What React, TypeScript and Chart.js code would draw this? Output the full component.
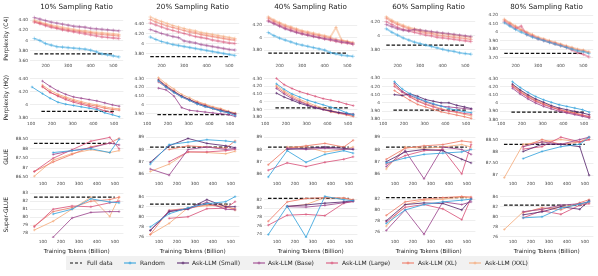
import React, { useEffect, useRef } from "react";
import { Chart, registerables } from "chart.js";
Chart.register(...registerables);

const FONT = "'DejaVu Sans', 'Liberation Sans', sans-serif";

// ---------- text ----------
const COL_TITLES = ["10% Sampling Ratio", "20% Sampling Ratio", "40% Sampling Ratio", "60% Sampling Ratio", "80% Sampling Ratio"];
const ROW_TITLES = ["Perplexity (C4)", "Perplexity (HQ)", "GLUE", "Super-GLUE"];
const X_TITLE = "Training Tokens (Billion)";
const LEGEND_FULL = "Full data";
const SERIES_KEYS = ["random", "small", "base", "large", "xl", "xxl"];
const SERIES_NAMES = ["Random", "Ask-LLM (Small)", "Ask-LLM (Base)", "Ask-LLM (Large)", "Ask-LLM (XL)", "Ask-LLM (XXL)"];

// ---------- x values & tick labels ----------
const C4_X = [150, 175, 200, 225, 250, 275, 300, 325, 350, 375, 400, 425, 450, 475, 500, 525];
const HQ_X = [105, 155, 192, 230, 267, 305, 342, 380, 417, 455, 492, 525];
const DS_X = [52, 157, 262, 367, 472, 524];
const X_TICKS_C4 = [200, 300, 400, 500];
const X_TICKS = [100, 200, 300, 400, 500];
const FULL_SPAN_PPL = [150, 500];
const FULL_SPAN_DS = [50, 500];

// ---------- Full data reference values ----------
const FULL_C4 = [3.74, 3.74, 3.75, 3.87, 3.75];
const FULL_HQ = [3.9, 3.89, 3.92, 3.91, 3.89];
const FULL_GLUE = [88.28, 88.2, 88.2, 88.2, 88.3];
const FULL_SG = [82.5, 82.5, 82.3, 82.3, 82.3];

// ---------- y tick labels ----------
const Y_TICKS_C4 = [[3.6, 3.8, 4, 4.2, 4.4], [3.8, 4, 4.2, 4.4], [3.8, 4, 4.2], [3.8, 4, 4.2], [3.7, 3.8, 3.9, 4, 4.1, 4.2]];
const Y_TICKS_HQ = [[3.8, 4, 4.2, 4.4], [3.9, 4, 4.1, 4.2, 4.3], [3.8, 3.9, 4, 4.1, 4.2, 4.3], [3.8, 3.9, 4, 4.1, 4.2, 4.3], [3.8, 3.9, 4, 4.1, 4.2, 4.3]];
const Y_TICKS_GLUE = [[86.5, 87, 87.5, 88, 88.5], [86, 87, 88, 89], [86, 87, 88, 89], [86, 87, 88, 89], [87, 87.5, 88, 88.5]];
const Y_TICKS_SG = [[78, 79, 80, 81, 82, 83], [76, 78, 80, 82, 84], [74, 76, 78, 80, 82], [76, 78, 80, 82], [76, 78, 80, 82, 84]];

// ---------- Perplexity (C4) ----------
const C4_10_RANDOM = [4.04, 4.0, 3.94, 3.91, 3.88, 3.87, 3.86, 3.85, 3.84, 3.83, 3.81, 3.78, 3.74, 3.72, 3.7, 3.68];
const C4_10_BASE = [4.45, 4.42, 4.39, 4.36, 4.34, 4.32, 4.3, 4.28, 4.27, 4.26, 4.24, 4.23, 4.22, 4.21, 4.2, 4.19];
const C4_10_LARGE = [4.36, 4.33, 4.29, 4.26, 4.24, 4.21, 4.19, 4.17, 4.15, 4.13, 4.11, 4.09, 4.07, 4.06, 4.05, 4.04];
const C4_10_XL = [4.37, 4.34, 4.31, 4.28, 4.25, 4.23, 4.21, 4.19, 4.18, 4.16, 4.15, 4.13, 4.12, 4.11, 4.1, 4.09];
const C4_10_XXL = [4.4, 4.36, 4.33, 4.3, 4.28, 4.26, 4.24, 4.22, 4.2, 4.19, 4.17, 4.16, 4.15, 4.14, 4.13, 4.12];

const C4_20_RANDOM = [4.13, 4.08, 4.04, 4.01, 3.98, 3.96, 3.94, 3.92, 3.9, 3.88, 3.86, 3.84, 3.82, 3.8, 3.78, 3.76];
const C4_20_BASE = [4.28, 4.24, 4.2, 4.17, 4.14, 4.12, 4.05, 4.03, 4.01, 3.98, 3.96, 3.94, 3.92, 3.9, 3.88, 3.87];
const C4_20_LARGE = [4.41, 4.37, 4.33, 4.29, 4.26, 4.23, 4.2, 4.17, 4.14, 4.12, 4.1, 4.07, 4.05, 4.03, 4.01, 4.0];
const C4_20_XL = [4.48, 4.43, 4.39, 4.35, 4.32, 4.29, 4.26, 4.23, 4.21, 4.18, 4.16, 4.14, 4.12, 4.1, 4.08, 4.07];
const C4_20_XXL = [4.53, 4.48, 4.44, 4.4, 4.36, 4.33, 4.3, 4.27, 4.25, 4.22, 4.2, 4.18, 4.16, 4.14, 4.12, 4.1];

const C4_40_RANDOM = [4.08, 4.03, 3.99, 3.96, 3.93, 3.9, 3.88, 3.86, 3.84, 3.82, 3.8, 3.76, 3.74, 3.72, 3.71, 3.7];
const C4_40_BASE = [4.26, 4.22, 4.18, 4.14, 4.11, 4.08, 4.06, 4.04, 4.02, 4.0, 3.98, 3.97, 3.95, 3.93, 3.92, 3.9];
const C4_40_LARGE = [4.27, 4.23, 4.19, 4.15, 4.12, 4.09, 4.06, 4.04, 4.02, 4.0, 3.98, 3.96, 3.94, 3.92, 3.91, 3.89];
const C4_40_XL = [4.31, 4.26, 4.22, 4.18, 4.15, 4.12, 4.09, 4.07, 4.05, 4.03, 4.01, 3.99, 3.97, 3.95, 3.93, 3.91];
const C4_40_XXL = [4.33, 4.28, 4.24, 4.2, 4.17, 4.14, 4.11, 4.09, 4.07, 4.05, 4.03, 4.01, 4.16, 3.96, 3.94, 3.92];

const C4_60_RANDOM = [4.1, 4.05, 4.01, 3.97, 3.94, 3.91, 3.89, 3.87, 3.85, 3.83, 3.81, 3.79, 3.78, 3.76, 3.75, 3.74];
const C4_60_BASE = [4.16, 4.13, 4.1, 4.08, 4.07, 4.09, 4.08, 4.07, 4.06, 4.05, 4.04, 4.03, 4.02, 4.01, 4.0, 3.99];
const C4_60_LARGE = [4.2, 4.16, 4.12, 4.09, 4.07, 4.05, 4.03, 4.01, 4.0, 3.98, 3.97, 3.96, 3.95, 3.94, 3.93, 3.92];
const C4_60_XL = [4.25, 4.2, 4.16, 4.13, 4.1, 4.08, 4.06, 4.04, 4.03, 4.01, 4.0, 3.99, 3.98, 3.97, 3.96, 3.95];
const C4_60_XXL = [4.27, 4.22, 4.18, 4.15, 4.12, 4.1, 4.08, 4.06, 4.05, 4.04, 4.03, 4.02, 4.01, 4.0, 3.99, 3.98];

const C4_80_RANDOM = [4.11, 4.07, 4.03, 4.0, 3.97, 3.94, 3.92, 3.9, 3.88, 3.86, 3.84, 3.82, 3.8, 3.78, 3.77, 3.75];
const C4_80_LARGE = [4.12, 4.08, 4.04, 4.07, 3.97, 3.95, 3.92, 3.9, 3.88, 3.86, 3.84, 3.82, 3.79, 3.76, 3.74, 3.71];
const C4_80_XL = [4.14, 4.1, 4.06, 4.02, 3.99, 3.96, 3.93, 3.91, 3.89, 3.87, 3.85, 3.83, 3.81, 3.79, 3.78, 3.76];
const C4_80_XXL = [4.15, 4.11, 4.07, 4.03, 4.0, 3.97, 3.94, 3.92, 3.9, 3.88, 3.86, 3.84, 3.82, 3.8, 3.79, 3.77];

// ---------- Perplexity (HQ) ----------
const HQ_10_RANDOM = [4.27, 4.17, 4.1, 4.04, 4.01, 3.99, 3.97, 3.95, 3.93, 3.88, 3.85, 3.82];
const HQ_10_BASE = [null, 4.36, 4.28, 4.21, 4.16, 4.12, 4.1, 4.08, 4.06, 4.03, 4.0, 3.98];
const HQ_10_LARGE = [null, 4.28, 4.19, 4.13, 4.08, 4.04, 4.01, 3.98, 3.95, 3.91, 3.88, null];
const HQ_10_XL = [null, 4.27, 4.19, 4.14, 4.1, 4.06, 4.03, 4.0, 3.98, 3.95, 3.93, 3.92];
const HQ_10_XXL = [null, 4.3, 4.22, 4.16, 4.12, 4.08, 4.05, 4.02, 4.0, 3.97, 3.95, 3.94];

const HQ_20_RANDOM = [null, 4.27, 4.2, 4.14, 4.09, 4.05, 4.01, 3.98, 3.96, 3.93, 3.91, 3.88];
const HQ_20_SMALL = [null, 4.28, 4.21, 4.15, 4.1, 4.06, 4.02, 3.99, 3.96, 3.94, 3.92, 3.9];
const HQ_20_BASE = [null, 4.19, 4.17, 4.1, 3.97, 3.94, 3.93, 3.92, 3.91, 3.9, 3.89, 3.87];
const HQ_20_LARGE = [null, 4.26, 4.2, 4.14, 4.09, 4.05, 4.01, 3.98, 3.96, 3.93, 3.91, 3.89];
const HQ_20_XL = [null, 4.29, 4.22, 4.16, 4.1, 4.06, 4.03, 4.0, 3.97, 3.95, 3.92, 3.9];
const HQ_20_XXL = [null, 4.31, 4.24, 4.18, 4.12, 4.08, 4.04, 4.01, 3.98, 3.96, 3.93, 3.91];

const HQ_40_RANDOM = [null, 4.23, 4.16, 4.1, 4.06, 4.02, 3.99, 3.96, 3.93, 3.9, 3.86, 3.83];
const HQ_40_SMALL = [null, 4.11, 4.06, 4.02, 3.98, 3.95, 3.92, 3.9, 3.88, 3.86, 3.85, 3.84];
const HQ_40_BASE = [null, 4.17, 4.1, 4.04, 4.0, 3.96, 3.93, 3.9, 3.88, 3.86, 3.84, 3.83];
const HQ_40_LARGE = [null, 4.3, 4.22, 4.17, 4.13, 4.1, 4.07, 4.04, 4.02, 4.0, 3.97, 3.95];
const HQ_40_XL = [null, 4.19, 4.12, 4.06, 4.01, 3.97, 3.93, 3.9, 3.87, 3.85, 3.83, 3.81];
const HQ_40_XXL = [null, 4.21, 4.14, 4.08, 4.03, 3.99, 3.95, 3.92, 3.89, 3.86, 3.84, 3.82];

const HQ_60_RANDOM = [null, 4.26, 4.17, 4.11, 4.06, 4.02, 3.99, 3.96, 3.93, 3.91, 3.89, 3.88];
const HQ_60_SMALL = [null, 4.1, 4.09, 4.11, 4.08, 4.04, 4.02, 4.0, 4.0, 3.97, 3.95, 3.93];
const HQ_60_BASE = [null, 4.24, 4.14, 4.09, 4.05, 4.01, 3.98, 3.96, 3.95, 3.94, 3.93, 3.92];
const HQ_60_LARGE = [null, 4.2, 4.13, 4.07, 4.02, 3.98, 3.95, 3.92, 3.9, 3.89, 3.87, 3.86];
const HQ_60_XL = [null, 4.15, 4.09, 4.03, 3.98, 3.95, 3.92, 3.89, 3.87, 3.85, 3.83, 3.81];
const HQ_60_XXL = [null, 4.22, 4.14, 4.08, 4.03, 3.99, 3.96, 3.93, 3.9, 3.88, 3.86, 3.84];

const HQ_80_RANDOM = [null, 4.26, 4.19, 4.13, 4.08, 4.04, 4.01, 3.98, 3.96, 3.94, 3.92, 3.89];
const HQ_80_SMALL = [null, 4.23, 4.16, 4.1, 4.05, 4.01, 3.97, 3.94, 3.92, 3.9, 3.88, 3.86];
const HQ_80_BASE = [null, 4.18, 4.11, 4.05, 4.0, 3.96, 3.93, 3.9, 3.88, 3.86, 3.84, 3.82];
const HQ_80_LARGE = [null, 4.2, 4.13, 4.07, 4.02, 3.98, 3.95, 3.92, 3.89, 3.87, 3.85, 3.84];
const HQ_80_XL = [null, 4.21, 4.14, 4.08, 4.03, 3.99, 3.95, 3.92, 3.9, 3.88, 3.86, 3.83];
const HQ_80_XXL = [null, 4.22, 4.15, 4.09, 4.04, 4.0, 3.96, 3.93, 3.9, 3.88, 3.85, 3.83];

// ---------- GLUE ----------
const GLUE_10_RANDOM = [null, 87.8, 87.9, 88.0, 87.8, 88.5];
const GLUE_10_BASE = [null, 87.7, 87.9, 88.05, 88.3, 88.2];
const GLUE_10_LARGE = [86.8, 87.5, 87.95, 88.4, 88.6, 88.0];
const GLUE_10_XL = [86.8, 87.3, 87.7, 88.1, 88.3, 88.55];
const GLUE_10_XXL = [86.55, 87.4, 87.75, 87.95, 87.8, 87.9];

const GLUE_20_RANDOM = [86.8, 88.4, 88.6, 88.8, 88.7, 88.6];
const GLUE_20_SMALL = [86.95, 88.3, 88.9, 88.5, 88.3, 88.15];
const GLUE_20_BASE = [86.4, 85.9, 88.0, 88.2, 88.0, 88.1];
const GLUE_20_LARGE = [null, 87.0, 87.8, 87.8, 87.9, 88.0];
const GLUE_20_XL = [null, 88.0, 88.3, 88.2, 88.1, 88.7];
const GLUE_20_XXL = [86.2, 86.8, 87.8, 87.75, 87.65, 87.85];

const GLUE_40_RANDOM = [85.75, 87.9, 86.95, 87.6, 87.9, 87.7];
const GLUE_40_SMALL = [null, 88.0, 88.1, 88.2, 88.1, 88.0];
const GLUE_40_BASE = [null, 88.1, 88.0, 88.1, 88.0, 88.05];
const GLUE_40_LARGE = [86.3, 86.9, 86.6, 86.95, 87.2, 87.4];
const GLUE_40_XL = [86.75, 88.1, 88.3, 88.5, 88.2, 88.75];
const GLUE_40_XXL = [null, 88.2, 88.2, 87.8, 88.0, 88.2];

const GLUE_60_RANDOM = [86.9, 87.3, 87.6, 87.7, 87.8, 88.0];
const GLUE_60_SMALL = [87.0, 87.8, 88.0, 87.9, 87.2, 86.9];
const GLUE_60_BASE = [86.6, 87.9, 85.6, 88.2, 88.0, 87.6];
const GLUE_60_LARGE = [86.8, 87.5, 87.9, 88.0, 86.0, 88.4];
const GLUE_60_XL = [87.2, 88.1, 88.3, 88.4, 88.7, 88.6];
const GLUE_60_XXL = [86.4, 88.2, 88.1, 88.2, 88.4, 88.2];

const GLUE_80_RANDOM = [null, 87.7, 88.0, 88.2, 88.3, 88.6];
const GLUE_80_SMALL = [null, 88.0, 88.3, 88.3, 88.2, 87.0];
const GLUE_80_BASE = [null, 88.2, 88.4, 88.3, 88.5, 88.6];
const GLUE_80_LARGE = [null, 88.1, 88.2, 88.6, 88.4, 88.5];
const GLUE_80_XL = [null, 88.2, 88.5, 88.3, 88.4, 88.5];
const GLUE_80_XXL = [86.9, 88.3, 88.4, 88.5, 88.4, 88.6];

// ---------- Super-GLUE ----------
const SG_10_RANDOM = [null, 80.4, 81.0, 82.3, 81.9, 81.8];
const SG_10_BASE = [null, 77.5, 79.9, 80.6, 80.7, 80.7];
const SG_10_LARGE = [78.8, 81.0, 81.4, 81.3, 81.8, 82.0];
const SG_10_XL = [78.9, 80.7, 81.2, 82.0, 82.2, 82.5];
const SG_10_XXL = [78.4, 79.5, 81.0, 82.5, 80.1, 82.5];

const SG_20_RANDOM = [78.0, 80.6, 81.8, 82.6, 83.0, 84.0];
const SG_20_SMALL = [77.3, 81.0, 81.6, 83.4, 82.0, 82.0];
const SG_20_BASE = [77.3, 81.2, 81.5, 82.9, 81.5, 81.4];
const SG_20_LARGE = [null, 79.7, 80.0, 81.6, 81.7, 83.0];
const SG_20_XL = [76.5, 81.3, 81.7, 82.4, 81.9, 81.6];
const SG_20_XXL = [76.5, 78.7, 81.8, 82.2, 82.3, 81.3];

const SG_40_RANDOM = [73.9, 80.5, 73.3, 82.8, 82.0, 81.8];
const SG_40_SMALL = [null, 80.5, 80.8, 81.2, 81.5, 81.8];
const SG_40_BASE = [null, 80.4, 80.3, 80.7, 81.3, 81.6];
const SG_40_LARGE = [76.1, 78.4, 78.6, 78.3, 81.2, 81.6];
const SG_40_XL = [77.0, 81.5, 82.3, 82.5, 82.4, 82.0];
const SG_40_XXL = [null, 80.4, 80.9, 82.5, 82.3, 82.0];

const SG_60_RANDOM = [77.5, 80.0, 81.0, 81.5, 81.8, 82.0];
const SG_60_SMALL = [78.0, 81.0, 81.3, 81.2, 80.0, 82.0];
const SG_60_BASE = [76.2, 80.0, 75.5, 81.5, 81.0, 81.5];
const SG_60_LARGE = [77.8, 80.5, 81.0, 80.2, 78.2, 82.2];
const SG_60_XL = [79.0, 81.5, 82.0, 82.3, 82.5, 82.4];
const SG_60_XXL = [77.0, 81.0, 81.8, 82.0, 82.4, 82.2];

const SG_80_RANDOM = [null, 79.8, 80.0, 81.7, 82.5, 83.0];
const SG_80_SMALL = [null, 80.4, 81.0, 82.0, 81.5, 83.2];
const SG_80_BASE = [null, 81.0, 81.5, 82.3, 82.6, 83.0];
const SG_80_LARGE = [null, 79.8, 81.2, 80.5, 82.3, 82.6];
const SG_80_XL = [null, 80.8, 81.8, 81.4, 82.8, 83.4];
const SG_80_XXL = [77.5, 81.0, 81.5, 82.0, 82.5, 82.8];

// ---------- style / layout (not data) ----------
const COLORS: Record<string, string> = {
  random: "#38a4dd",
  small: "#5b2a70",
  base: "#9e4a90",
  large: "#d9577c",
  xl: "#ee7c69",
  xxl: "#f5ad7e",
};
const PLOT_LEFT = [30, 146, 264, 382, 500];
const PLOT_W = 95;
const PLOT_TOP = [15, 73, 131, 189];
const PLOT_H = [47, 47, 49, 49];
const X_RANGE = [[131, 544], [95, 545], [28, 548], [28, 548]];
const Y_RANGE = [
  [[3.58, 4.5], [3.63, 4.57], [3.61, 4.36], [3.63, 4.295], [3.65, 4.2]],
  [[3.771, 4.443], [3.83, 4.332], [3.765, 4.336], [3.79, 4.333], [3.795, 4.334]],
  [[86.35, 88.8], [85.5, 89.3], [85.5, 89.3], [85.5, 89.3], [86.8, 88.75]],
  [[77.4, 83.2], [75.8, 85.0], [73.1, 83.9], [74.8, 83.4], [75.8, 85.0]],
];

type Cfg = {
  row: number;
  col: number;
  xs: number[];
  series: Record<string, (number | null)[]>;
  full: number;
  yTicks: number[];
};

const C4_SERIES = [
  { random: C4_10_RANDOM, base: C4_10_BASE, large: C4_10_LARGE, xl: C4_10_XL, xxl: C4_10_XXL },
  { random: C4_20_RANDOM, base: C4_20_BASE, large: C4_20_LARGE, xl: C4_20_XL, xxl: C4_20_XXL },
  { random: C4_40_RANDOM, base: C4_40_BASE, large: C4_40_LARGE, xl: C4_40_XL, xxl: C4_40_XXL },
  { random: C4_60_RANDOM, base: C4_60_BASE, large: C4_60_LARGE, xl: C4_60_XL, xxl: C4_60_XXL },
  { random: C4_80_RANDOM, large: C4_80_LARGE, xl: C4_80_XL, xxl: C4_80_XXL },
];
const HQ_SERIES = [
  { random: HQ_10_RANDOM, base: HQ_10_BASE, large: HQ_10_LARGE, xl: HQ_10_XL, xxl: HQ_10_XXL },
  { random: HQ_20_RANDOM, small: HQ_20_SMALL, base: HQ_20_BASE, large: HQ_20_LARGE, xl: HQ_20_XL, xxl: HQ_20_XXL },
  { random: HQ_40_RANDOM, small: HQ_40_SMALL, base: HQ_40_BASE, large: HQ_40_LARGE, xl: HQ_40_XL, xxl: HQ_40_XXL },
  { random: HQ_60_RANDOM, small: HQ_60_SMALL, base: HQ_60_BASE, large: HQ_60_LARGE, xl: HQ_60_XL, xxl: HQ_60_XXL },
  { random: HQ_80_RANDOM, small: HQ_80_SMALL, base: HQ_80_BASE, large: HQ_80_LARGE, xl: HQ_80_XL, xxl: HQ_80_XXL },
];
const GLUE_SERIES = [
  { random: GLUE_10_RANDOM, base: GLUE_10_BASE, large: GLUE_10_LARGE, xl: GLUE_10_XL, xxl: GLUE_10_XXL },
  { random: GLUE_20_RANDOM, small: GLUE_20_SMALL, base: GLUE_20_BASE, large: GLUE_20_LARGE, xl: GLUE_20_XL, xxl: GLUE_20_XXL },
  { random: GLUE_40_RANDOM, small: GLUE_40_SMALL, base: GLUE_40_BASE, large: GLUE_40_LARGE, xl: GLUE_40_XL, xxl: GLUE_40_XXL },
  { random: GLUE_60_RANDOM, small: GLUE_60_SMALL, base: GLUE_60_BASE, large: GLUE_60_LARGE, xl: GLUE_60_XL, xxl: GLUE_60_XXL },
  { random: GLUE_80_RANDOM, small: GLUE_80_SMALL, base: GLUE_80_BASE, large: GLUE_80_LARGE, xl: GLUE_80_XL, xxl: GLUE_80_XXL },
];
const SG_SERIES = [
  { random: SG_10_RANDOM, base: SG_10_BASE, large: SG_10_LARGE, xl: SG_10_XL, xxl: SG_10_XXL },
  { random: SG_20_RANDOM, small: SG_20_SMALL, base: SG_20_BASE, large: SG_20_LARGE, xl: SG_20_XL, xxl: SG_20_XXL },
  { random: SG_40_RANDOM, small: SG_40_SMALL, base: SG_40_BASE, large: SG_40_LARGE, xl: SG_40_XL, xxl: SG_40_XXL },
  { random: SG_60_RANDOM, small: SG_60_SMALL, base: SG_60_BASE, large: SG_60_LARGE, xl: SG_60_XL, xxl: SG_60_XXL },
  { random: SG_80_RANDOM, small: SG_80_SMALL, base: SG_80_BASE, large: SG_80_LARGE, xl: SG_80_XL, xxl: SG_80_XXL },
];

const PANELS: Cfg[] = [];
for (let c = 0; c < 5; c++) {
  PANELS.push({ row: 0, col: c, xs: C4_X, series: C4_SERIES[c], full: FULL_C4[c], yTicks: Y_TICKS_C4[c] });
  PANELS.push({ row: 1, col: c, xs: HQ_X, series: HQ_SERIES[c], full: FULL_HQ[c], yTicks: Y_TICKS_HQ[c] });
  PANELS.push({ row: 2, col: c, xs: DS_X, series: GLUE_SERIES[c], full: FULL_GLUE[c], yTicks: Y_TICKS_GLUE[c] });
  PANELS.push({ row: 3, col: c, xs: DS_X, series: SG_SERIES[c], full: FULL_SG[c], yTicks: Y_TICKS_SG[c] });
}

function hexA(hex: string, a: number) {
  const n = parseInt(hex.slice(1), 16);
  return `rgba(${(n >> 16) & 255},${(n >> 8) & 255},${n & 255},${a})`;
}

function fmtY(v: number) {
  const r = Math.round(v);
  return Math.abs(v - r) < 1e-9 ? String(r) : v.toFixed(2);
}

function dims(row: number, col: number) {
  const LM = col === 0 ? 30 : 22;
  const TM = row === 0 ? 14 : 2;
  const BM = row === 3 ? 18 : 8;
  const RM = 3;
  return {
    LM, TM, BM, RM,
    left: PLOT_LEFT[col] - LM,
    top: PLOT_TOP[row] - TM,
    w: PLOT_W + LM + RM,
    h: PLOT_H[row] + TM + BM,
  };
}

const titlePlugin = {
  id: "colTitle",
  afterDraw(chart: any, _args: any, opts: any) {
    if (!opts || !opts.text) return;
    const { ctx, chartArea } = chart;
    ctx.save();
    ctx.font = `7.2px ${FONT}`;
    ctx.fillStyle = "#222";
    ctx.textAlign = "center";
    ctx.textBaseline = "middle";
    ctx.fillText(opts.text, (chartArea.left + chartArea.right) / 2, opts.y);
    ctx.restore();
  },
};

function Panel({ cfg }: { cfg: Cfg }) {
  const ref = useRef<HTMLCanvasElement>(null);
  const d = dims(cfg.row, cfg.col);
  useEffect(() => {
    const { row, col, xs, series, full, yTicks } = cfg;
    const dense = row === 0;
    const datasets: any[] = [];
    const span = row < 2 ? FULL_SPAN_PPL : FULL_SPAN_DS;
    datasets.push({
      data: [{ x: span[0], y: full }, { x: span[1], y: full }],
      borderColor: "#111",
      borderWidth: 1.25,
      borderDash: [3.5, 1.8],
      pointRadius: 0,
      order: 10,
    });
    SERIES_KEYS.forEach((k) => {
      const ys = series[k];
      if (!ys) return;
      const col0 = COLORS[k];
      const a = dense ? 0.5 : 0.95;
      datasets.push({
        data: xs.map((x, i) => ({ x, y: ys[i] })).filter((p) => p.y !== null && p.y !== undefined),
        borderColor: hexA(col0, a),
        backgroundColor: hexA(col0, a),
        borderWidth: dense ? 1.8 : 0.9,
        pointStyle: "cross",
        pointRadius: dense ? 1.9 : 1.3,
        pointBorderWidth: dense ? 0.8 : 0.6,
        pointBorderColor: hexA(col0, a),
        tension: 0,
      });
    });
    const [ymin, ymax] = Y_RANGE[row][col];
    const [xmin, xmax] = X_RANGE[row];
    const xt = row === 0 ? X_TICKS_C4 : X_TICKS;
    const chart = new Chart(ref.current as HTMLCanvasElement, {
      type: "line",
      data: { datasets },
      plugins: [titlePlugin],
      options: {
        animation: false,
        responsive: false,
        devicePixelRatio: 1,
        layout: { padding: { top: d.TM, right: d.RM, left: 0, bottom: 0 } },
        plugins: {
          legend: { display: false },
          tooltip: { enabled: false },
          colTitle: { text: row === 0 ? COL_TITLES[col] : "", y: 6.5 },
        } as any,
        scales: {
          x: {
            type: "linear",
            min: xmin,
            max: xmax,
            afterBuildTicks: (s: any) => {
              s.ticks = xt.map((v) => ({ value: v }));
            },
            afterFit: (s: any) => {
              s.height = d.BM;
            },
            grid: { display: false, drawTicks: false },
            border: { display: false },
            ticks: {
              font: { family: FONT, size: 4.3 },
              color: "#444",
              padding: 1.5,
              maxRotation: 0,
              autoSkip: false,
              callback: (v: any) => String(v),
            },
            title: {
              display: row === 3,
              text: X_TITLE,
              font: { family: FONT, size: 5.6 },
              color: "#222",
              padding: { top: 0, bottom: 1 },
            },
          },
          y: {
            type: "linear",
            min: ymin,
            max: ymax,
            afterBuildTicks: (s: any) => {
              s.ticks = yTicks.map((v) => ({ value: v }));
            },
            afterFit: (s: any) => {
              s.width = d.LM;
            },
            grid: { color: "#e6e6e6", lineWidth: 0.7, drawTicks: false },
            border: { display: false },
            ticks: {
              font: { family: FONT, size: 4.3 },
              color: "#444",
              padding: 2,
              autoSkip: false,
              callback: (v: any) => fmtY(Number(v)),
            },
            title: {
              display: col === 0,
              text: ROW_TITLES[row],
              font: { family: FONT, size: 6 },
              color: "#222",
              padding: { top: 3, bottom: 0 },
            },
          },
        },
      } as any,
    });
    return () => chart.destroy();
  }, [cfg]);
  return (
    <canvas
      ref={ref}
      width={d.w}
      height={d.h}
      style={{ position: "absolute", left: d.left, top: d.top, width: d.w, height: d.h }}
    />
  );
}

const LEGEND_POS = [
  { line: 70, text: 87 },
  { line: 124, text: 140 },
  { line: 177, text: 192 },
  { line: 253, text: 268 },
  { line: 326, text: 342 },
  { line: 402, text: 418 },
  { line: 469, text: 485 },
];

function Legend() {
  const items = [{ name: LEGEND_FULL, color: "#111", dash: true }].concat(
    SERIES_KEYS.map((k, i) => ({ name: SERIES_NAMES[i], color: COLORS[k], dash: false }))
  );
  return (
    <div
      style={{
        position: "absolute",
        left: 66,
        top: 256,
        width: 463,
        height: 14,
        background: "#f1f1f1",
      }}
    >
      {items.map((it, i) => (
        <React.Fragment key={i}>
          <svg
            width={13}
            height={6}
            style={{ position: "absolute", left: LEGEND_POS[i].line - 66, top: 4 }}
          >
            <line
              x1={0}
              y1={3}
              x2={12}
              y2={3}
              stroke={it.color}
              strokeWidth={1.1}
              strokeDasharray={it.dash ? "3 2" : undefined}
            />
            {!it.dash && (
              <g stroke={it.color} strokeWidth={0.7}>
                <line x1={6} y1={1.5} x2={6} y2={4.5} />
                <line x1={4.5} y1={3} x2={7.5} y2={3} />
              </g>
            )}
          </svg>
          <span
            style={{
              position: "absolute",
              left: LEGEND_POS[i].text - 66,
              top: 3,
              fontFamily: FONT,
              fontSize: 6,
              lineHeight: "8px",
              color: "#222",
              whiteSpace: "nowrap",
            }}
          >
            {it.name}
          </span>
        </React.Fragment>
      ))}
    </div>
  );
}

export default function App() {
  useEffect(() => {
    document.body.style.margin = "0";
  }, []);
  return (
    <div style={{ position: "relative", width: 598, height: 276, background: "#fff", overflow: "hidden" }}>
      {PANELS.map((p, i) => (
        <Panel key={i} cfg={p} />
      ))}
      <Legend />
    </div>
  );
}
